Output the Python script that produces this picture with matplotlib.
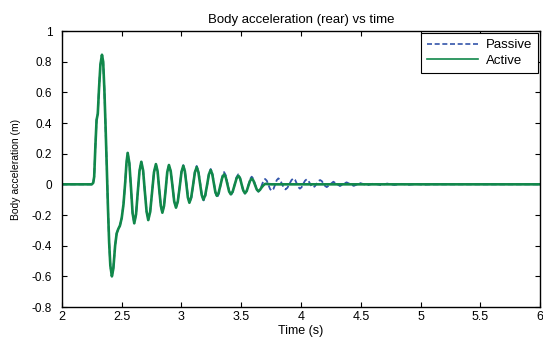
import matplotlib
matplotlib.use("Agg")
import matplotlib.pyplot as plt

plt.rcParams['font.family'] = ['Liberation Sans', 'DejaVu Sans']

# Active: time (s) and body acceleration
t_active = [2.0, 2.25, 2.262, 2.27, 2.28, 2.29, 2.30, 2.31, 2.322, 2.335, 2.345,
            2.355, 2.365, 2.375, 2.385, 2.395, 2.405, 2.418, 2.43, 2.445, 2.458,
            2.472, 2.485, 2.50, 2.515, 2.53, 2.54, 2.55,
            2.564, 2.578, 2.591, 2.605, 2.620, 2.634, 2.649, 2.664, 2.679, 2.693,
            2.708, 2.722, 2.738, 2.754, 2.770, 2.786, 2.800, 2.813, 2.827, 2.840,
            2.854, 2.868, 2.881, 2.895, 2.910, 2.925, 2.939, 2.954, 2.969, 2.985,
            3.000, 3.015, 3.028, 3.041, 3.053, 3.066, 3.081, 3.097, 3.112, 3.127,
            3.141, 3.155, 3.169, 3.183, 3.198, 3.214, 3.229, 3.244, 3.257, 3.270,
            3.283, 3.296, 3.311, 3.326, 3.341, 3.356, 3.370, 3.384, 3.398, 3.412,
            3.428, 3.444, 3.460, 3.476, 3.490, 3.503, 3.517, 3.531, 3.545, 3.559,
            3.573, 3.587, 3.601, 3.615, 3.629, 3.643, 3.657, 3.670, 3.685, 3.700,
            3.750, 6.0]
a_active = [0.0, 0.0, 0.01, 0.05, 0.25, 0.42, 0.46, 0.62, 0.78, 0.845, 0.80,
            0.62, 0.38, 0.12, -0.15, -0.38, -0.53, -0.60, -0.55, -0.40, -0.32,
            -0.29, -0.27, -0.22, -0.13, 0.02, 0.14, 0.205,
            0.138, -0.025, -0.187, -0.254, -0.195, -0.054, 0.088, 0.147, 0.091, -0.043,
            -0.177, -0.233, -0.180, -0.051, 0.079, 0.132, 0.086, -0.027, -0.139, -0.185,
            -0.140, -0.030, 0.080, 0.126, 0.085, -0.013, -0.111, -0.152, -0.112, -0.016,
            0.081, 0.121, 0.086, 0.000, -0.085, -0.120, -0.086, -0.004, 0.078, 0.112,
            0.081, 0.006, -0.069, -0.100, -0.072, -0.004, 0.065, 0.093, 0.068, 0.009,
            -0.050, -0.075, -0.054, -0.005, 0.044, 0.065, 0.046, 0.000, -0.046, -0.065,
            -0.047, -0.005, 0.038, 0.056, 0.039, -0.001, -0.041, -0.058, -0.044, -0.010,
            0.023, 0.037, 0.025, -0.004, -0.033, -0.045, -0.035, -0.020, -0.006, 0.003,
            0.0, 0.0]

# Passive: same as active until 3.0 s, then its own decaying oscillation
t_passive_tail = [3.015, 3.028, 3.042, 3.055, 3.068, 3.083, 3.098, 3.112, 3.127,
                  3.142, 3.156, 3.171, 3.185, 3.200, 3.215, 3.229, 3.244, 3.258,
                  3.271, 3.285, 3.298, 3.313, 3.327, 3.342, 3.356, 3.371, 3.385,
                  3.400, 3.414, 3.429, 3.444, 3.459, 3.474, 3.488, 3.502, 3.516,
                  3.530, 3.544, 3.559, 3.573, 3.587, 3.601, 3.615, 3.629, 3.643,
                  3.657, 3.671, 3.685, 3.699, 3.713, 3.727, 3.741, 3.755, 3.769,
                  3.783, 3.796, 3.810, 3.825, 3.840, 3.855, 3.870, 3.886, 3.903,
                  3.920, 3.936, 3.950, 3.963, 3.977, 3.990, 4.004, 4.018, 4.033,
                  4.047, 4.060, 4.073, 4.087, 4.100, 4.115, 4.130, 4.144, 4.159,
                  4.173, 4.187, 4.201, 4.215, 4.243, 4.270, 4.298, 4.325, 4.353,
                  4.380, 4.410, 4.440, 4.468, 4.495, 4.523, 4.550, 4.580, 4.610,
                  4.638, 4.665, 4.693, 4.720, 4.750, 4.780, 4.84, 4.90, 4.96, 5.02,
                  5.1, 6.0]
a_passive_tail = [0.125, 0.089, 0.003, -0.084, -0.120, -0.085, 0.000, 0.085, 0.120,
                  0.087, 0.008, -0.072, -0.105, -0.075, -0.003, 0.070, 0.100, 0.073,
                  0.008, -0.058, -0.085, -0.061, -0.003, 0.056, 0.080, 0.058, 0.005,
                  -0.048, -0.070, -0.050, -0.003, 0.045, 0.065, 0.047, 0.003, -0.042,
                  -0.060, -0.044, -0.005, 0.034, 0.050, 0.036, 0.001, -0.034, -0.048,
                  -0.036, -0.007, 0.023, 0.035, 0.024, -0.004, -0.031, -0.042, -0.030,
                  -0.002, 0.027, 0.039, 0.028, 0.003, -0.022, -0.033, -0.022, 0.003,
                  0.028, 0.039, 0.029, 0.006, -0.018, -0.028, -0.019, 0.003, 0.024,
                  0.033, 0.025, 0.007, -0.012, -0.020, -0.013, 0.004, 0.021, 0.028,
                  0.021, 0.005, -0.011, -0.018, 0.000, 0.017, 0.003, -0.011, 0.001,
                  0.013, 0.002, -0.010, -0.001, 0.008, 0.001, -0.007, 0.000, 0.006,
                  0.000, -0.005, 0.000, 0.005, 0.000, -0.004, 0.003, -0.003, 0.002, -0.002,
                  0.0, 0.0]

x_ticks = [2, 2.5, 3, 3.5, 4, 4.5, 5, 5.5, 6]
x_ticklabels = ['2', '2.5', '3', '3.5', '4', '4.5', '5', '5.5', '6']
y_ticks = [-0.8, -0.6, -0.4, -0.2, 0, 0.2, 0.4, 0.6, 0.8, 1]
y_ticklabels = ['-0.8', '-0.6', '-0.4', '-0.2', '0', '0.2', '0.4', '0.6', '0.8', '1']

n_head = sum(1 for t in t_active if t <= 3.0)
t_passive = t_active[:n_head] + t_passive_tail
a_passive = a_active[:n_head] + a_passive_tail

fig = plt.figure(figsize=(5.43, 3.37), dpi=100)
ax = fig.add_axes([0.114, 0.089, 0.881, 0.819])

ax.plot(t_passive, a_passive, color='#3355aa', linestyle=(0, (3.0, 1.6)), lw=1.3,
        label='Passive')
ax.plot(t_active, a_active, color='#11884a', lw=1.9, label='Active')

ax.set_xlim(2, 6)
ax.set_ylim(-0.8, 1)
ax.set_xticks(x_ticks)
ax.set_xticklabels(x_ticklabels)
ax.set_yticks(y_ticks)
ax.set_yticklabels(y_ticklabels)
ax.tick_params(direction='in', top=True, right=True, length=3.5, width=0.8)
ax.tick_params(axis='x', labelsize=9, pad=3)
ax.tick_params(axis='y', labelsize=8.5, pad=7)
for s in ax.spines.values():
    s.set_linewidth(1.0)

ax.set_title('Body acceleration (rear) vs time', fontsize=9.5, pad=6)
ax.set_xlabel('Time (s)', fontsize=9, labelpad=1)
ax.set_ylabel('Body acceleration (m)', fontsize=7.5, labelpad=8)

leg = ax.legend(loc='upper right', fontsize=9.5, fancybox=False, framealpha=1,
                edgecolor='black', borderaxespad=0.15, handlelength=3.9,
                handletextpad=0.6, borderpad=0.45, labelspacing=0.25)
leg.get_frame().set_linewidth(0.8)
for line in leg.get_lines():
    line.set_linewidth(1.2)

fig.savefig('out.png', dpi=100)
